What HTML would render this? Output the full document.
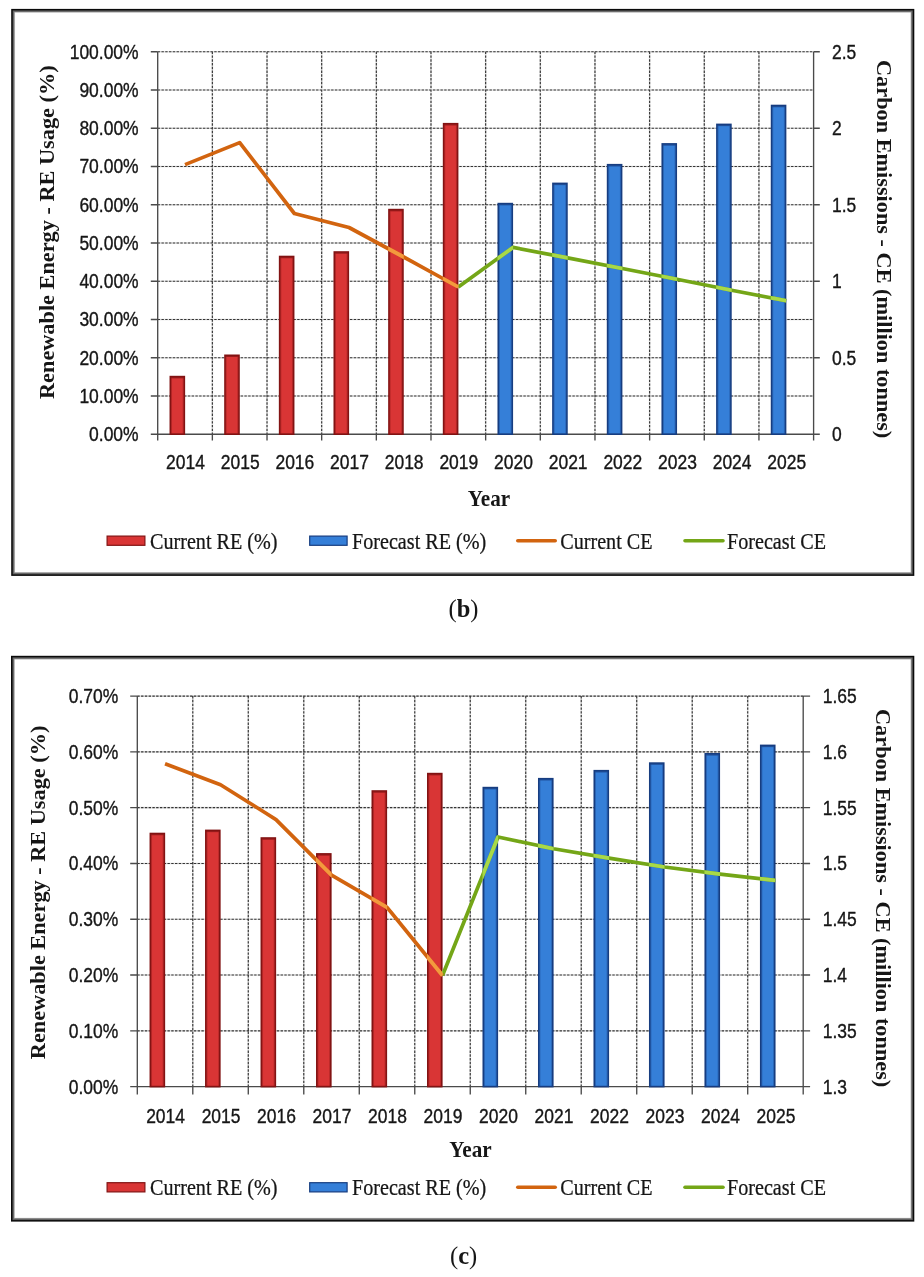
<!DOCTYPE html>
<html><head><meta charset="utf-8"><title>Figure</title>
<style>html,body{margin:0;padding:0;background:#fff;}body{width:924px;height:1277px;overflow:hidden;font-family:"Liberation Sans",sans-serif;}svg{display:block;will-change:transform;opacity:0.999;}text{white-space:pre;}</style>
</head><body>
<svg width="924" height="1277" viewBox="0 0 924 1277">
<rect width="924" height="1277" fill="#fff"/>
<g opacity="0.999">
<rect x="11.20" y="8.90" width="903.10" height="567.00" fill="#0a0a0a"/>
<rect x="12.70" y="10.40" width="900.10" height="564.00" fill="#5c5c5c"/>
<rect x="13.60" y="11.30" width="898.30" height="562.20" fill="#747474"/>
<rect x="14.30" y="12.00" width="896.90" height="560.80" fill="#a4a4a4"/>
<rect x="14.80" y="12.50" width="895.90" height="559.80" fill="#dedede"/>
<rect x="15.10" y="12.80" width="895.30" height="559.20" fill="#ffffff"/>
<path d="M157.70 51.70H813.60M157.70 89.95H813.60M157.70 128.20H813.60M157.70 166.45H813.60M157.70 204.70H813.60M157.70 242.95H813.60M157.70 281.20H813.60M157.70 319.45H813.60M157.70 357.70H813.60M157.70 395.95H813.60M212.36 51.70V434.20M267.02 51.70V434.20M321.68 51.70V434.20M376.33 51.70V434.20M430.99 51.70V434.20M485.65 51.70V434.20M540.31 51.70V434.20M594.97 51.70V434.20M649.62 51.70V434.20M704.28 51.70V434.20M758.94 51.70V434.20" stroke="#3c3c3c" stroke-width="1.15" stroke-dasharray="2.4 1.37" fill="none"/>
<path d="M157.70 51.70H813.60M157.70 89.95H813.60M157.70 128.20H813.60M157.70 166.45H813.60M157.70 204.70H813.60M157.70 242.95H813.60M157.70 281.20H813.60M157.70 319.45H813.60M157.70 357.70H813.60M157.70 395.95H813.60M212.36 51.70V434.20M267.02 51.70V434.20M321.68 51.70V434.20M376.33 51.70V434.20M430.99 51.70V434.20M485.65 51.70V434.20M540.31 51.70V434.20M594.97 51.70V434.20M649.62 51.70V434.20M704.28 51.70V434.20M758.94 51.70V434.20" stroke="#000" stroke-opacity="0.13" stroke-width="1.6" fill="none"/>
<path d="M157.70 51.70V440.40M813.60 51.70V440.40M150.80 434.20H819.80M150.80 51.70H157.70M813.60 51.70H819.80M150.80 89.95H157.70M150.80 128.20H157.70M813.60 128.20H819.80M150.80 166.45H157.70M150.80 204.70H157.70M813.60 204.70H819.80M150.80 242.95H157.70M150.80 281.20H157.70M813.60 281.20H819.80M150.80 319.45H157.70M150.80 357.70H157.70M813.60 357.70H819.80M150.80 395.95H157.70M212.36 434.20V440.40M267.02 434.20V440.40M321.68 434.20V440.40M376.33 434.20V440.40M430.99 434.20V440.40M485.65 434.20V440.40M540.31 434.20V440.40M594.97 434.20V440.40M649.62 434.20V440.40M704.28 434.20V440.40M758.94 434.20V440.40" stroke="#4a4a4a" stroke-width="1.35" fill="none"/>
<rect x="170.33" y="376.60" width="14.00" height="57.60" fill="#d93535" stroke="#821313" stroke-width="1.6"/>
<rect x="171.53" y="377.80" width="11.60" height="56.40" fill="none" stroke="#821313" stroke-opacity="0.35" stroke-width="1"/>
<rect x="170.53" y="377.00" width="13.60" height="1.3" fill="#821313" fill-opacity="0.55"/>
<rect x="224.99" y="355.30" width="14.00" height="78.90" fill="#d93535" stroke="#821313" stroke-width="1.6"/>
<rect x="226.19" y="356.50" width="11.60" height="77.70" fill="none" stroke="#821313" stroke-opacity="0.35" stroke-width="1"/>
<rect x="225.19" y="355.70" width="13.60" height="1.3" fill="#821313" fill-opacity="0.55"/>
<rect x="279.65" y="256.50" width="14.00" height="177.70" fill="#d93535" stroke="#821313" stroke-width="1.6"/>
<rect x="280.85" y="257.70" width="11.60" height="176.50" fill="none" stroke="#821313" stroke-opacity="0.35" stroke-width="1"/>
<rect x="279.85" y="256.90" width="13.60" height="1.3" fill="#821313" fill-opacity="0.55"/>
<rect x="334.30" y="252.00" width="14.00" height="182.20" fill="#d93535" stroke="#821313" stroke-width="1.6"/>
<rect x="335.50" y="253.20" width="11.60" height="181.00" fill="none" stroke="#821313" stroke-opacity="0.35" stroke-width="1"/>
<rect x="334.50" y="252.40" width="13.60" height="1.3" fill="#821313" fill-opacity="0.55"/>
<rect x="388.96" y="209.60" width="14.00" height="224.60" fill="#d93535" stroke="#821313" stroke-width="1.6"/>
<rect x="390.16" y="210.80" width="11.60" height="223.40" fill="none" stroke="#821313" stroke-opacity="0.35" stroke-width="1"/>
<rect x="389.16" y="210.00" width="13.60" height="1.3" fill="#821313" fill-opacity="0.55"/>
<rect x="443.62" y="123.70" width="14.00" height="310.50" fill="#d93535" stroke="#821313" stroke-width="1.6"/>
<rect x="444.82" y="124.90" width="11.60" height="309.30" fill="none" stroke="#821313" stroke-opacity="0.35" stroke-width="1"/>
<rect x="443.82" y="124.10" width="13.60" height="1.3" fill="#821313" fill-opacity="0.55"/>
<rect x="498.28" y="203.60" width="14.00" height="230.60" fill="#357fd8" stroke="#173d80" stroke-width="1.6"/>
<rect x="499.48" y="204.80" width="11.60" height="229.40" fill="none" stroke="#173d80" stroke-opacity="0.35" stroke-width="1"/>
<rect x="498.48" y="204.00" width="13.60" height="1.3" fill="#173d80" fill-opacity="0.55"/>
<rect x="552.94" y="183.40" width="14.00" height="250.80" fill="#357fd8" stroke="#173d80" stroke-width="1.6"/>
<rect x="554.14" y="184.60" width="11.60" height="249.60" fill="none" stroke="#173d80" stroke-opacity="0.35" stroke-width="1"/>
<rect x="553.14" y="183.80" width="13.60" height="1.3" fill="#173d80" fill-opacity="0.55"/>
<rect x="607.60" y="164.70" width="14.00" height="269.50" fill="#357fd8" stroke="#173d80" stroke-width="1.6"/>
<rect x="608.80" y="165.90" width="11.60" height="268.30" fill="none" stroke="#173d80" stroke-opacity="0.35" stroke-width="1"/>
<rect x="607.80" y="165.10" width="13.60" height="1.3" fill="#173d80" fill-opacity="0.55"/>
<rect x="662.25" y="143.90" width="14.00" height="290.30" fill="#357fd8" stroke="#173d80" stroke-width="1.6"/>
<rect x="663.45" y="145.10" width="11.60" height="289.10" fill="none" stroke="#173d80" stroke-opacity="0.35" stroke-width="1"/>
<rect x="662.45" y="144.30" width="13.60" height="1.3" fill="#173d80" fill-opacity="0.55"/>
<rect x="716.91" y="124.40" width="14.00" height="309.80" fill="#357fd8" stroke="#173d80" stroke-width="1.6"/>
<rect x="718.11" y="125.60" width="11.60" height="308.60" fill="none" stroke="#173d80" stroke-opacity="0.35" stroke-width="1"/>
<rect x="717.11" y="124.80" width="13.60" height="1.3" fill="#173d80" fill-opacity="0.55"/>
<rect x="771.57" y="105.50" width="14.00" height="328.70" fill="#357fd8" stroke="#173d80" stroke-width="1.6"/>
<rect x="772.77" y="106.70" width="11.60" height="327.50" fill="none" stroke="#173d80" stroke-opacity="0.35" stroke-width="1"/>
<rect x="771.77" y="105.90" width="13.60" height="1.3" fill="#173d80" fill-opacity="0.55"/>
<clipPath id="clip1"><rect x="169.53" y="375.80" width="15.60" height="58.40"/><rect x="224.19" y="354.50" width="15.60" height="79.70"/><rect x="278.85" y="255.70" width="15.60" height="178.50"/><rect x="333.50" y="251.20" width="15.60" height="183.00"/><rect x="388.16" y="208.80" width="15.60" height="225.40"/><rect x="442.82" y="122.90" width="15.60" height="311.30"/><rect x="497.48" y="202.80" width="15.60" height="231.40"/><rect x="552.14" y="182.60" width="15.60" height="251.60"/><rect x="606.80" y="163.90" width="15.60" height="270.30"/><rect x="661.45" y="143.10" width="15.60" height="291.10"/><rect x="716.11" y="123.60" width="15.60" height="310.60"/><rect x="770.77" y="104.70" width="15.60" height="329.50"/></clipPath>
<polyline points="458.32,287.00 512.98,247.40 567.64,257.90 622.30,268.50 676.95,279.20 731.61,290.20 786.27,300.80" fill="none" stroke="#74a617" stroke-width="3.7" stroke-linejoin="round" stroke-linecap="butt"/>
<polyline points="185.03,164.60 239.69,142.60 294.35,213.50 349.00,227.50 403.66,257.00 458.32,287.00" fill="none" stroke="#d2640f" stroke-width="3.7" stroke-linejoin="round" stroke-linecap="butt"/>
<g clip-path="url(#clip1)"><polyline points="458.32,287.00 512.98,247.40 567.64,257.90 622.30,268.50 676.95,279.20 731.61,290.20 786.27,300.80" fill="none" stroke="#a8d948" stroke-width="3.7" stroke-linejoin="round"/><polyline points="185.03,164.60 239.69,142.60 294.35,213.50 349.00,227.50 403.66,257.00 458.32,287.00" fill="none" stroke="#f39a3e" stroke-width="3.7" stroke-linejoin="round"/></g>
<text transform="translate(138.60,58.60) scale(0.905,1.0)" font-family='"Liberation Sans", sans-serif' font-size="19.3" font-weight="normal" text-anchor="end" fill="#161616" stroke="#161616" stroke-width="0.35" stroke-linejoin="round">100.00%</text>
<text transform="translate(138.60,96.85) scale(0.905,1.0)" font-family='"Liberation Sans", sans-serif' font-size="19.3" font-weight="normal" text-anchor="end" fill="#161616" stroke="#161616" stroke-width="0.35" stroke-linejoin="round">90.00%</text>
<text transform="translate(138.60,135.10) scale(0.905,1.0)" font-family='"Liberation Sans", sans-serif' font-size="19.3" font-weight="normal" text-anchor="end" fill="#161616" stroke="#161616" stroke-width="0.35" stroke-linejoin="round">80.00%</text>
<text transform="translate(138.60,173.35) scale(0.905,1.0)" font-family='"Liberation Sans", sans-serif' font-size="19.3" font-weight="normal" text-anchor="end" fill="#161616" stroke="#161616" stroke-width="0.35" stroke-linejoin="round">70.00%</text>
<text transform="translate(138.60,211.60) scale(0.905,1.0)" font-family='"Liberation Sans", sans-serif' font-size="19.3" font-weight="normal" text-anchor="end" fill="#161616" stroke="#161616" stroke-width="0.35" stroke-linejoin="round">60.00%</text>
<text transform="translate(138.60,249.85) scale(0.905,1.0)" font-family='"Liberation Sans", sans-serif' font-size="19.3" font-weight="normal" text-anchor="end" fill="#161616" stroke="#161616" stroke-width="0.35" stroke-linejoin="round">50.00%</text>
<text transform="translate(138.60,288.10) scale(0.905,1.0)" font-family='"Liberation Sans", sans-serif' font-size="19.3" font-weight="normal" text-anchor="end" fill="#161616" stroke="#161616" stroke-width="0.35" stroke-linejoin="round">40.00%</text>
<text transform="translate(138.60,326.35) scale(0.905,1.0)" font-family='"Liberation Sans", sans-serif' font-size="19.3" font-weight="normal" text-anchor="end" fill="#161616" stroke="#161616" stroke-width="0.35" stroke-linejoin="round">30.00%</text>
<text transform="translate(138.60,364.60) scale(0.905,1.0)" font-family='"Liberation Sans", sans-serif' font-size="19.3" font-weight="normal" text-anchor="end" fill="#161616" stroke="#161616" stroke-width="0.35" stroke-linejoin="round">20.00%</text>
<text transform="translate(138.60,402.85) scale(0.905,1.0)" font-family='"Liberation Sans", sans-serif' font-size="19.3" font-weight="normal" text-anchor="end" fill="#161616" stroke="#161616" stroke-width="0.35" stroke-linejoin="round">10.00%</text>
<text transform="translate(138.60,441.10) scale(0.905,1.0)" font-family='"Liberation Sans", sans-serif' font-size="19.3" font-weight="normal" text-anchor="end" fill="#161616" stroke="#161616" stroke-width="0.35" stroke-linejoin="round">0.00%</text>
<text transform="translate(832.00,58.60) scale(0.905,1.0)" font-family='"Liberation Sans", sans-serif' font-size="19.3" font-weight="normal" text-anchor="start" fill="#161616" stroke="#161616" stroke-width="0.35" stroke-linejoin="round">2.5</text>
<text transform="translate(832.00,135.10) scale(0.905,1.0)" font-family='"Liberation Sans", sans-serif' font-size="19.3" font-weight="normal" text-anchor="start" fill="#161616" stroke="#161616" stroke-width="0.35" stroke-linejoin="round">2</text>
<text transform="translate(832.00,211.60) scale(0.905,1.0)" font-family='"Liberation Sans", sans-serif' font-size="19.3" font-weight="normal" text-anchor="start" fill="#161616" stroke="#161616" stroke-width="0.35" stroke-linejoin="round">1.5</text>
<text transform="translate(832.00,288.10) scale(0.905,1.0)" font-family='"Liberation Sans", sans-serif' font-size="19.3" font-weight="normal" text-anchor="start" fill="#161616" stroke="#161616" stroke-width="0.35" stroke-linejoin="round">1</text>
<text transform="translate(832.00,364.60) scale(0.905,1.0)" font-family='"Liberation Sans", sans-serif' font-size="19.3" font-weight="normal" text-anchor="start" fill="#161616" stroke="#161616" stroke-width="0.35" stroke-linejoin="round">0.5</text>
<text transform="translate(832.00,441.10) scale(0.905,1.0)" font-family='"Liberation Sans", sans-serif' font-size="19.3" font-weight="normal" text-anchor="start" fill="#161616" stroke="#161616" stroke-width="0.35" stroke-linejoin="round">0</text>
<text transform="translate(185.53,469.00) scale(0.905,1.0)" font-family='"Liberation Sans", sans-serif' font-size="19.3" font-weight="normal" text-anchor="middle" fill="#161616" stroke="#161616" stroke-width="0.35" stroke-linejoin="round">2014</text>
<text transform="translate(240.19,469.00) scale(0.905,1.0)" font-family='"Liberation Sans", sans-serif' font-size="19.3" font-weight="normal" text-anchor="middle" fill="#161616" stroke="#161616" stroke-width="0.35" stroke-linejoin="round">2015</text>
<text transform="translate(294.85,469.00) scale(0.905,1.0)" font-family='"Liberation Sans", sans-serif' font-size="19.3" font-weight="normal" text-anchor="middle" fill="#161616" stroke="#161616" stroke-width="0.35" stroke-linejoin="round">2016</text>
<text transform="translate(349.50,469.00) scale(0.905,1.0)" font-family='"Liberation Sans", sans-serif' font-size="19.3" font-weight="normal" text-anchor="middle" fill="#161616" stroke="#161616" stroke-width="0.35" stroke-linejoin="round">2017</text>
<text transform="translate(404.16,469.00) scale(0.905,1.0)" font-family='"Liberation Sans", sans-serif' font-size="19.3" font-weight="normal" text-anchor="middle" fill="#161616" stroke="#161616" stroke-width="0.35" stroke-linejoin="round">2018</text>
<text transform="translate(458.82,469.00) scale(0.905,1.0)" font-family='"Liberation Sans", sans-serif' font-size="19.3" font-weight="normal" text-anchor="middle" fill="#161616" stroke="#161616" stroke-width="0.35" stroke-linejoin="round">2019</text>
<text transform="translate(513.48,469.00) scale(0.905,1.0)" font-family='"Liberation Sans", sans-serif' font-size="19.3" font-weight="normal" text-anchor="middle" fill="#161616" stroke="#161616" stroke-width="0.35" stroke-linejoin="round">2020</text>
<text transform="translate(568.14,469.00) scale(0.905,1.0)" font-family='"Liberation Sans", sans-serif' font-size="19.3" font-weight="normal" text-anchor="middle" fill="#161616" stroke="#161616" stroke-width="0.35" stroke-linejoin="round">2021</text>
<text transform="translate(622.80,469.00) scale(0.905,1.0)" font-family='"Liberation Sans", sans-serif' font-size="19.3" font-weight="normal" text-anchor="middle" fill="#161616" stroke="#161616" stroke-width="0.35" stroke-linejoin="round">2022</text>
<text transform="translate(677.45,469.00) scale(0.905,1.0)" font-family='"Liberation Sans", sans-serif' font-size="19.3" font-weight="normal" text-anchor="middle" fill="#161616" stroke="#161616" stroke-width="0.35" stroke-linejoin="round">2023</text>
<text transform="translate(732.11,469.00) scale(0.905,1.0)" font-family='"Liberation Sans", sans-serif' font-size="19.3" font-weight="normal" text-anchor="middle" fill="#161616" stroke="#161616" stroke-width="0.35" stroke-linejoin="round">2024</text>
<text transform="translate(786.77,469.00) scale(0.905,1.0)" font-family='"Liberation Sans", sans-serif' font-size="19.3" font-weight="normal" text-anchor="middle" fill="#161616" stroke="#161616" stroke-width="0.35" stroke-linejoin="round">2025</text>
<text transform="translate(54.30,399.00) rotate(-90) scale(1.0,0.96)" font-family='"Liberation Serif", serif' font-size="22.3" font-weight="bold" text-anchor="start" fill="#161616">Renewable Energy - RE Usage (%)</text>
<text transform="translate(877.40,60.00) rotate(90) scale(1.0,0.96)" font-family='"Liberation Serif", serif' font-size="22.3" font-weight="bold" text-anchor="start" fill="#161616">Carbon Emissions - CE (million tonnes)</text>
<text transform="translate(489.00,506.00) scale(0.95,1.0)" font-family='"Liberation Serif", serif' font-size="22.3" font-weight="bold" text-anchor="middle" fill="#161616">Year</text>
<rect x="107.1" y="536.10" width="37.8" height="9.2" fill="#d93535" stroke="#821313" stroke-width="1.2"/>
<rect x="309.7" y="536.10" width="37.4" height="9.2" fill="#357fd8" stroke="#173d80" stroke-width="1.2"/>
<path d="M517.8 540.70H555.2" stroke="#d2640f" stroke-width="3.6" stroke-linecap="round"/>
<path d="M685 540.70H723" stroke="#74a617" stroke-width="3.6" stroke-linecap="round"/>
<text transform="translate(150.00,548.70) scale(0.9,1.0)" font-family='"Liberation Serif", serif' font-size="22.4" font-weight="normal" text-anchor="start" fill="#161616" stroke="#161616" stroke-width="0.25" stroke-linejoin="round">Current RE (%)</text>
<text transform="translate(352.00,548.70) scale(0.9,1.0)" font-family='"Liberation Serif", serif' font-size="22.4" font-weight="normal" text-anchor="start" fill="#161616" stroke="#161616" stroke-width="0.25" stroke-linejoin="round">Forecast RE (%)</text>
<text transform="translate(560.20,548.70) scale(0.9,1.0)" font-family='"Liberation Serif", serif' font-size="22.4" font-weight="normal" text-anchor="start" fill="#161616" stroke="#161616" stroke-width="0.25" stroke-linejoin="round">Current CE</text>
<text transform="translate(727.00,548.70) scale(0.9,1.0)" font-family='"Liberation Serif", serif' font-size="22.4" font-weight="normal" text-anchor="start" fill="#161616" stroke="#161616" stroke-width="0.25" stroke-linejoin="round">Forecast CE</text>
<rect x="11.00" y="655.80" width="903.30" height="565.80" fill="#0a0a0a"/>
<rect x="12.50" y="657.30" width="900.30" height="562.80" fill="#5c5c5c"/>
<rect x="13.40" y="658.20" width="898.50" height="561.00" fill="#747474"/>
<rect x="14.10" y="658.90" width="897.10" height="559.60" fill="#a4a4a4"/>
<rect x="14.60" y="659.40" width="896.10" height="558.60" fill="#dedede"/>
<rect x="14.90" y="659.70" width="895.50" height="558.00" fill="#ffffff"/>
<path d="M137.30 696.10H803.20M137.30 751.89H803.20M137.30 807.67H803.20M137.30 863.46H803.20M137.30 919.24H803.20M137.30 975.03H803.20M137.30 1030.81H803.20M192.79 696.10V1086.60M248.28 696.10V1086.60M303.78 696.10V1086.60M359.27 696.10V1086.60M414.76 696.10V1086.60M470.25 696.10V1086.60M525.74 696.10V1086.60M581.23 696.10V1086.60M636.73 696.10V1086.60M692.22 696.10V1086.60M747.71 696.10V1086.60" stroke="#3c3c3c" stroke-width="1.15" stroke-dasharray="2.4 1.37" fill="none"/>
<path d="M137.30 696.10H803.20M137.30 751.89H803.20M137.30 807.67H803.20M137.30 863.46H803.20M137.30 919.24H803.20M137.30 975.03H803.20M137.30 1030.81H803.20M192.79 696.10V1086.60M248.28 696.10V1086.60M303.78 696.10V1086.60M359.27 696.10V1086.60M414.76 696.10V1086.60M470.25 696.10V1086.60M525.74 696.10V1086.60M581.23 696.10V1086.60M636.73 696.10V1086.60M692.22 696.10V1086.60M747.71 696.10V1086.60" stroke="#000" stroke-opacity="0.13" stroke-width="1.6" fill="none"/>
<path d="M137.30 696.10V1094.40M803.20 696.10V1094.40M130.20 1086.60H810.10M130.20 696.10H137.30M803.20 696.10H810.10M130.20 751.89H137.30M803.20 751.89H810.10M130.20 807.67H137.30M803.20 807.67H810.10M130.20 863.46H137.30M803.20 863.46H810.10M130.20 919.24H137.30M803.20 919.24H810.10M130.20 975.03H137.30M803.20 975.03H810.10M130.20 1030.81H137.30M803.20 1030.81H810.10M192.79 1086.60V1094.40M248.28 1086.60V1094.40M303.78 1086.60V1094.40M359.27 1086.60V1094.40M414.76 1086.60V1094.40M470.25 1086.60V1094.40M525.74 1086.60V1094.40M581.23 1086.60V1094.40M636.73 1086.60V1094.40M692.22 1086.60V1094.40M747.71 1086.60V1094.40" stroke="#4a4a4a" stroke-width="1.35" fill="none"/>
<rect x="150.35" y="833.50" width="14.00" height="253.10" fill="#d93535" stroke="#821313" stroke-width="1.6"/>
<rect x="151.55" y="834.70" width="11.60" height="251.90" fill="none" stroke="#821313" stroke-opacity="0.35" stroke-width="1"/>
<rect x="150.55" y="833.90" width="13.60" height="1.3" fill="#821313" fill-opacity="0.55"/>
<rect x="205.84" y="830.40" width="14.00" height="256.20" fill="#d93535" stroke="#821313" stroke-width="1.6"/>
<rect x="207.04" y="831.60" width="11.60" height="255.00" fill="none" stroke="#821313" stroke-opacity="0.35" stroke-width="1"/>
<rect x="206.04" y="830.80" width="13.60" height="1.3" fill="#821313" fill-opacity="0.55"/>
<rect x="261.33" y="838.00" width="14.00" height="248.60" fill="#d93535" stroke="#821313" stroke-width="1.6"/>
<rect x="262.53" y="839.20" width="11.60" height="247.40" fill="none" stroke="#821313" stroke-opacity="0.35" stroke-width="1"/>
<rect x="261.53" y="838.40" width="13.60" height="1.3" fill="#821313" fill-opacity="0.55"/>
<rect x="316.82" y="853.90" width="14.00" height="232.70" fill="#d93535" stroke="#821313" stroke-width="1.6"/>
<rect x="318.02" y="855.10" width="11.60" height="231.50" fill="none" stroke="#821313" stroke-opacity="0.35" stroke-width="1"/>
<rect x="317.02" y="854.30" width="13.60" height="1.3" fill="#821313" fill-opacity="0.55"/>
<rect x="372.31" y="791.00" width="14.00" height="295.60" fill="#d93535" stroke="#821313" stroke-width="1.6"/>
<rect x="373.51" y="792.20" width="11.60" height="294.40" fill="none" stroke="#821313" stroke-opacity="0.35" stroke-width="1"/>
<rect x="372.51" y="791.40" width="13.60" height="1.3" fill="#821313" fill-opacity="0.55"/>
<rect x="427.80" y="773.60" width="14.00" height="313.00" fill="#d93535" stroke="#821313" stroke-width="1.6"/>
<rect x="429.00" y="774.80" width="11.60" height="311.80" fill="none" stroke="#821313" stroke-opacity="0.35" stroke-width="1"/>
<rect x="428.00" y="774.00" width="13.60" height="1.3" fill="#821313" fill-opacity="0.55"/>
<rect x="483.30" y="787.60" width="14.00" height="299.00" fill="#357fd8" stroke="#173d80" stroke-width="1.6"/>
<rect x="484.50" y="788.80" width="11.60" height="297.80" fill="none" stroke="#173d80" stroke-opacity="0.35" stroke-width="1"/>
<rect x="483.50" y="788.00" width="13.60" height="1.3" fill="#173d80" fill-opacity="0.55"/>
<rect x="538.79" y="778.70" width="14.00" height="307.90" fill="#357fd8" stroke="#173d80" stroke-width="1.6"/>
<rect x="539.99" y="779.90" width="11.60" height="306.70" fill="none" stroke="#173d80" stroke-opacity="0.35" stroke-width="1"/>
<rect x="538.99" y="779.10" width="13.60" height="1.3" fill="#173d80" fill-opacity="0.55"/>
<rect x="594.28" y="770.70" width="14.00" height="315.90" fill="#357fd8" stroke="#173d80" stroke-width="1.6"/>
<rect x="595.48" y="771.90" width="11.60" height="314.70" fill="none" stroke="#173d80" stroke-opacity="0.35" stroke-width="1"/>
<rect x="594.48" y="771.10" width="13.60" height="1.3" fill="#173d80" fill-opacity="0.55"/>
<rect x="649.77" y="763.10" width="14.00" height="323.50" fill="#357fd8" stroke="#173d80" stroke-width="1.6"/>
<rect x="650.97" y="764.30" width="11.60" height="322.30" fill="none" stroke="#173d80" stroke-opacity="0.35" stroke-width="1"/>
<rect x="649.97" y="763.50" width="13.60" height="1.3" fill="#173d80" fill-opacity="0.55"/>
<rect x="705.26" y="753.80" width="14.00" height="332.80" fill="#357fd8" stroke="#173d80" stroke-width="1.6"/>
<rect x="706.46" y="755.00" width="11.60" height="331.60" fill="none" stroke="#173d80" stroke-opacity="0.35" stroke-width="1"/>
<rect x="705.46" y="754.20" width="13.60" height="1.3" fill="#173d80" fill-opacity="0.55"/>
<rect x="760.75" y="745.40" width="14.00" height="341.20" fill="#357fd8" stroke="#173d80" stroke-width="1.6"/>
<rect x="761.95" y="746.60" width="11.60" height="340.00" fill="none" stroke="#173d80" stroke-opacity="0.35" stroke-width="1"/>
<rect x="760.95" y="745.80" width="13.60" height="1.3" fill="#173d80" fill-opacity="0.55"/>
<clipPath id="clip2"><rect x="149.55" y="832.70" width="15.60" height="253.90"/><rect x="205.04" y="829.60" width="15.60" height="257.00"/><rect x="260.53" y="837.20" width="15.60" height="249.40"/><rect x="316.02" y="853.10" width="15.60" height="233.50"/><rect x="371.51" y="790.20" width="15.60" height="296.40"/><rect x="427.00" y="772.80" width="15.60" height="313.80"/><rect x="482.50" y="786.80" width="15.60" height="299.80"/><rect x="537.99" y="777.90" width="15.60" height="308.70"/><rect x="593.48" y="769.90" width="15.60" height="316.70"/><rect x="648.97" y="762.30" width="15.60" height="324.30"/><rect x="704.46" y="753.00" width="15.60" height="333.60"/><rect x="759.95" y="744.60" width="15.60" height="342.00"/></clipPath>
<polyline points="442.50,975.50 498.00,837.00 553.49,848.80 608.98,858.10 664.47,867.00 719.96,874.20 775.45,880.50" fill="none" stroke="#74a617" stroke-width="3.7" stroke-linejoin="round" stroke-linecap="butt"/>
<polyline points="165.05,763.80 220.54,784.70 276.03,819.60 331.52,875.10 387.01,907.30 442.50,975.50" fill="none" stroke="#d2640f" stroke-width="3.7" stroke-linejoin="round" stroke-linecap="butt"/>
<g clip-path="url(#clip2)"><polyline points="442.50,975.50 498.00,837.00 553.49,848.80 608.98,858.10 664.47,867.00 719.96,874.20 775.45,880.50" fill="none" stroke="#a8d948" stroke-width="3.7" stroke-linejoin="round"/><polyline points="165.05,763.80 220.54,784.70 276.03,819.60 331.52,875.10 387.01,907.30 442.50,975.50" fill="none" stroke="#f39a3e" stroke-width="3.7" stroke-linejoin="round"/></g>
<text transform="translate(118.30,703.00) scale(0.905,1.0)" font-family='"Liberation Sans", sans-serif' font-size="19.3" font-weight="normal" text-anchor="end" fill="#161616" stroke="#161616" stroke-width="0.35" stroke-linejoin="round">0.70%</text>
<text transform="translate(118.30,758.79) scale(0.905,1.0)" font-family='"Liberation Sans", sans-serif' font-size="19.3" font-weight="normal" text-anchor="end" fill="#161616" stroke="#161616" stroke-width="0.35" stroke-linejoin="round">0.60%</text>
<text transform="translate(118.30,814.57) scale(0.905,1.0)" font-family='"Liberation Sans", sans-serif' font-size="19.3" font-weight="normal" text-anchor="end" fill="#161616" stroke="#161616" stroke-width="0.35" stroke-linejoin="round">0.50%</text>
<text transform="translate(118.30,870.36) scale(0.905,1.0)" font-family='"Liberation Sans", sans-serif' font-size="19.3" font-weight="normal" text-anchor="end" fill="#161616" stroke="#161616" stroke-width="0.35" stroke-linejoin="round">0.40%</text>
<text transform="translate(118.30,926.14) scale(0.905,1.0)" font-family='"Liberation Sans", sans-serif' font-size="19.3" font-weight="normal" text-anchor="end" fill="#161616" stroke="#161616" stroke-width="0.35" stroke-linejoin="round">0.30%</text>
<text transform="translate(118.30,981.93) scale(0.905,1.0)" font-family='"Liberation Sans", sans-serif' font-size="19.3" font-weight="normal" text-anchor="end" fill="#161616" stroke="#161616" stroke-width="0.35" stroke-linejoin="round">0.20%</text>
<text transform="translate(118.30,1037.71) scale(0.905,1.0)" font-family='"Liberation Sans", sans-serif' font-size="19.3" font-weight="normal" text-anchor="end" fill="#161616" stroke="#161616" stroke-width="0.35" stroke-linejoin="round">0.10%</text>
<text transform="translate(118.30,1093.50) scale(0.905,1.0)" font-family='"Liberation Sans", sans-serif' font-size="19.3" font-weight="normal" text-anchor="end" fill="#161616" stroke="#161616" stroke-width="0.35" stroke-linejoin="round">0.00%</text>
<text transform="translate(822.80,703.00) scale(0.905,1.0)" font-family='"Liberation Sans", sans-serif' font-size="19.3" font-weight="normal" text-anchor="start" fill="#161616" stroke="#161616" stroke-width="0.35" stroke-linejoin="round">1.65</text>
<text transform="translate(822.80,758.79) scale(0.905,1.0)" font-family='"Liberation Sans", sans-serif' font-size="19.3" font-weight="normal" text-anchor="start" fill="#161616" stroke="#161616" stroke-width="0.35" stroke-linejoin="round">1.6</text>
<text transform="translate(822.80,814.57) scale(0.905,1.0)" font-family='"Liberation Sans", sans-serif' font-size="19.3" font-weight="normal" text-anchor="start" fill="#161616" stroke="#161616" stroke-width="0.35" stroke-linejoin="round">1.55</text>
<text transform="translate(822.80,870.36) scale(0.905,1.0)" font-family='"Liberation Sans", sans-serif' font-size="19.3" font-weight="normal" text-anchor="start" fill="#161616" stroke="#161616" stroke-width="0.35" stroke-linejoin="round">1.5</text>
<text transform="translate(822.80,926.14) scale(0.905,1.0)" font-family='"Liberation Sans", sans-serif' font-size="19.3" font-weight="normal" text-anchor="start" fill="#161616" stroke="#161616" stroke-width="0.35" stroke-linejoin="round">1.45</text>
<text transform="translate(822.80,981.93) scale(0.905,1.0)" font-family='"Liberation Sans", sans-serif' font-size="19.3" font-weight="normal" text-anchor="start" fill="#161616" stroke="#161616" stroke-width="0.35" stroke-linejoin="round">1.4</text>
<text transform="translate(822.80,1037.71) scale(0.905,1.0)" font-family='"Liberation Sans", sans-serif' font-size="19.3" font-weight="normal" text-anchor="start" fill="#161616" stroke="#161616" stroke-width="0.35" stroke-linejoin="round">1.35</text>
<text transform="translate(822.80,1093.50) scale(0.905,1.0)" font-family='"Liberation Sans", sans-serif' font-size="19.3" font-weight="normal" text-anchor="start" fill="#161616" stroke="#161616" stroke-width="0.35" stroke-linejoin="round">1.3</text>
<text transform="translate(165.55,1123.00) scale(0.905,1.0)" font-family='"Liberation Sans", sans-serif' font-size="19.3" font-weight="normal" text-anchor="middle" fill="#161616" stroke="#161616" stroke-width="0.35" stroke-linejoin="round">2014</text>
<text transform="translate(221.04,1123.00) scale(0.905,1.0)" font-family='"Liberation Sans", sans-serif' font-size="19.3" font-weight="normal" text-anchor="middle" fill="#161616" stroke="#161616" stroke-width="0.35" stroke-linejoin="round">2015</text>
<text transform="translate(276.53,1123.00) scale(0.905,1.0)" font-family='"Liberation Sans", sans-serif' font-size="19.3" font-weight="normal" text-anchor="middle" fill="#161616" stroke="#161616" stroke-width="0.35" stroke-linejoin="round">2016</text>
<text transform="translate(332.02,1123.00) scale(0.905,1.0)" font-family='"Liberation Sans", sans-serif' font-size="19.3" font-weight="normal" text-anchor="middle" fill="#161616" stroke="#161616" stroke-width="0.35" stroke-linejoin="round">2017</text>
<text transform="translate(387.51,1123.00) scale(0.905,1.0)" font-family='"Liberation Sans", sans-serif' font-size="19.3" font-weight="normal" text-anchor="middle" fill="#161616" stroke="#161616" stroke-width="0.35" stroke-linejoin="round">2018</text>
<text transform="translate(443.00,1123.00) scale(0.905,1.0)" font-family='"Liberation Sans", sans-serif' font-size="19.3" font-weight="normal" text-anchor="middle" fill="#161616" stroke="#161616" stroke-width="0.35" stroke-linejoin="round">2019</text>
<text transform="translate(498.50,1123.00) scale(0.905,1.0)" font-family='"Liberation Sans", sans-serif' font-size="19.3" font-weight="normal" text-anchor="middle" fill="#161616" stroke="#161616" stroke-width="0.35" stroke-linejoin="round">2020</text>
<text transform="translate(553.99,1123.00) scale(0.905,1.0)" font-family='"Liberation Sans", sans-serif' font-size="19.3" font-weight="normal" text-anchor="middle" fill="#161616" stroke="#161616" stroke-width="0.35" stroke-linejoin="round">2021</text>
<text transform="translate(609.48,1123.00) scale(0.905,1.0)" font-family='"Liberation Sans", sans-serif' font-size="19.3" font-weight="normal" text-anchor="middle" fill="#161616" stroke="#161616" stroke-width="0.35" stroke-linejoin="round">2022</text>
<text transform="translate(664.97,1123.00) scale(0.905,1.0)" font-family='"Liberation Sans", sans-serif' font-size="19.3" font-weight="normal" text-anchor="middle" fill="#161616" stroke="#161616" stroke-width="0.35" stroke-linejoin="round">2023</text>
<text transform="translate(720.46,1123.00) scale(0.905,1.0)" font-family='"Liberation Sans", sans-serif' font-size="19.3" font-weight="normal" text-anchor="middle" fill="#161616" stroke="#161616" stroke-width="0.35" stroke-linejoin="round">2024</text>
<text transform="translate(775.95,1123.00) scale(0.905,1.0)" font-family='"Liberation Sans", sans-serif' font-size="19.3" font-weight="normal" text-anchor="middle" fill="#161616" stroke="#161616" stroke-width="0.35" stroke-linejoin="round">2025</text>
<text transform="translate(45.40,1059.20) rotate(-90) scale(1.0,0.96)" font-family='"Liberation Serif", serif' font-size="22.3" font-weight="bold" text-anchor="start" fill="#161616">Renewable Energy - RE Usage (%)</text>
<text transform="translate(875.60,709.00) rotate(90) scale(1.0,0.96)" font-family='"Liberation Serif", serif' font-size="22.3" font-weight="bold" text-anchor="start" fill="#161616">Carbon Emissions - CE (million tonnes)</text>
<text transform="translate(470.50,1157.00) scale(0.95,1.0)" font-family='"Liberation Serif", serif' font-size="22.3" font-weight="bold" text-anchor="middle" fill="#161616">Year</text>
<rect x="107.1" y="1182.70" width="37.8" height="9.2" fill="#d93535" stroke="#821313" stroke-width="1.2"/>
<rect x="309.7" y="1182.70" width="37.4" height="9.2" fill="#357fd8" stroke="#173d80" stroke-width="1.2"/>
<path d="M517.8 1187.30H555.2" stroke="#d2640f" stroke-width="3.6" stroke-linecap="round"/>
<path d="M685 1187.30H723" stroke="#74a617" stroke-width="3.6" stroke-linecap="round"/>
<text transform="translate(150.00,1195.30) scale(0.9,1.0)" font-family='"Liberation Serif", serif' font-size="22.4" font-weight="normal" text-anchor="start" fill="#161616" stroke="#161616" stroke-width="0.25" stroke-linejoin="round">Current RE (%)</text>
<text transform="translate(352.00,1195.30) scale(0.9,1.0)" font-family='"Liberation Serif", serif' font-size="22.4" font-weight="normal" text-anchor="start" fill="#161616" stroke="#161616" stroke-width="0.25" stroke-linejoin="round">Forecast RE (%)</text>
<text transform="translate(560.20,1195.30) scale(0.9,1.0)" font-family='"Liberation Serif", serif' font-size="22.4" font-weight="normal" text-anchor="start" fill="#161616" stroke="#161616" stroke-width="0.25" stroke-linejoin="round">Current CE</text>
<text transform="translate(727.00,1195.30) scale(0.9,1.0)" font-family='"Liberation Serif", serif' font-size="22.4" font-weight="normal" text-anchor="start" fill="#161616" stroke="#161616" stroke-width="0.25" stroke-linejoin="round">Forecast CE</text>
<text x="463.5" y="617.0" font-family='"Liberation Serif", serif' font-size="24.5" text-anchor="middle" fill="#161616">(<tspan font-weight="bold">b</tspan>)</text>
<text x="463.6" y="1263.5" font-family='"Liberation Serif", serif' font-size="24.5" text-anchor="middle" fill="#161616">(<tspan font-weight="bold">c</tspan>)</text>
</g></svg></body></html>
